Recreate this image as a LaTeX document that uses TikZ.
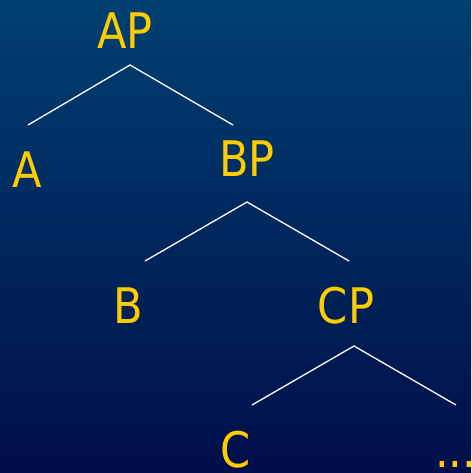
\documentclass[tikz,border=0pt]{standalone}
\usepackage{fontspec}
\setmainfont[FakeStretch=0.88]{DejaVu Sans}
\definecolor{bgtop}{RGB}{0,64,112}
\definecolor{bgbottom}{RGB}{0,14,74}
\definecolor{label}{RGB}{255,204,0}
\begin{document}
\begin{tikzpicture}[x=1pt,y=-1pt,
  cat/.style={text=label,font=\fontsize{49}{49}\selectfont,inner sep=0pt,anchor=base},
  branch/.style={draw=white,line width=1.3pt}]
  \useasboundingbox[top color=bgtop,bottom color=bgbottom] (0,0) rectangle (471,473);
  % category labels
  \node[cat] (ap) at (125,49) {AP};
  \node[cat] (a)  at (27,187) {A};
  \node[cat] (bp) at (247,176) {BP};
  \node[cat] (b)  at (128,323) {B};
  \node[cat] (cp) at (346,323) {CP};
  \node[cat] (c)  at (235.5,467) {C};
  \node[cat,anchor=base west] (rest) at (435,467) {...};
  % branch points
  \coordinate (apT) at (130,65);
  \coordinate (apL) at (28,125);
  \coordinate (apR) at (233,125);
  \coordinate (bpT) at (247,202);
  \coordinate (bpL) at (145,261);
  \coordinate (bpR) at (349,261);
  \coordinate (cpT) at (354,346);
  \coordinate (cpL) at (252,405);
  \coordinate (cpR) at (456,405);
  % branches
  \draw[branch] (apL) -- (apT) -- (apR);
  \draw[branch] (bpL) -- (bpT) -- (bpR);
  \draw[branch] (cpL) -- (cpT) -- (cpR);
\end{tikzpicture}
\end{document}
